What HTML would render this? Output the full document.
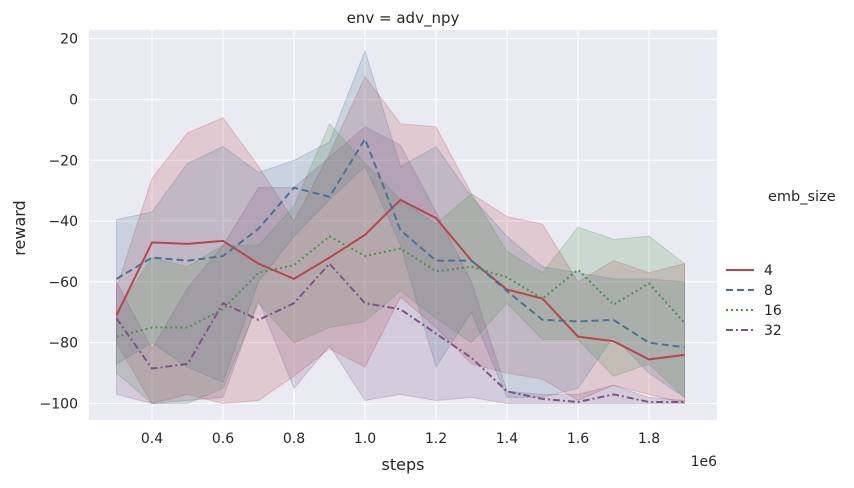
<!DOCTYPE html>
<html><head><meta charset="utf-8"><style>
body{margin:0;background:#fff;font-family:"Liberation Sans","DejaVu Sans",sans-serif}
svg text{font-family:"DejaVu Sans","Liberation Sans",sans-serif;fill:#262626}
</style></head><body>
<svg id="chart" width="854" height="483" xmlns="http://www.w3.org/2000/svg">
<rect x="89" y="30" width="628" height="390" fill="#eaeaf2"/>
<g id="grid"></g><g id="bands"></g><g id="lines"></g><g id="axes"></g>
<text x="403" y="23" font-size="15" text-anchor="middle">env = adv_npy</text>
<text x="403" y="470" font-size="16" text-anchor="middle">steps</text>
<text x="25" y="228" font-size="16" text-anchor="middle" transform="rotate(-90 25 228)">reward</text>
<text x="717" y="466" font-size="14" text-anchor="end">1e6</text>
<g id="legend"></g>
</svg>
<script>
const steps=[0.3,0.4,0.5,0.6,0.7,0.8,0.9,1.0,1.1,1.2,1.3,1.4,1.5,1.6,1.7,1.8,1.9];
const seriesNames=["4","8","16","32"];
const mean4=[-71,-47,-47.5,-46.5,-54,-59,-52,-44.5,-33,-39,-53,-62.5,-65.5,-78,-79.5,-85.5,-84];
const hi4=[-62,-26,-11,-6,-22,-40,-18,7.5,-8,-9,-31,-38.5,-41,-60,-53,-57,-54];
const lo4=[-80,-100,-97,-100,-99,-91,-82,-88,-65,-75,-87,-90,-92,-99,-94,-97,-100];
const mean8=[-59,-52,-53,-51.5,-42.5,-29,-32,-13,-43,-53,-53,-63,-72.5,-73,-72.5,-80,-81.5];
const hi8=[-39.5,-37,-21,-15.5,-24,-20,-14,16,-22,-15.5,-32,-45,-55,-57,-59,-59,-60];
const lo8=[-87,-80,-88,-93,-60,-45,-33,-22,-48,-88,-70,-98,-98,-95,-78,-90,-98];
const mean16=[-78,-75,-75,-69,-57,-54.5,-45,-51.5,-49,-56.5,-55,-58.5,-65.5,-56,-67.5,-60.5,-73.5];
const hi16=[-70,-52,-55,-48,-48,-35,-8,-21,-33,-41,-31,-50,-57,-42,-46,-45,-54];
const lo16=[-90,-100,-100,-95,-67,-80,-75,-73,-63,-72,-80,-67,-79,-79,-91,-87,-98];
const mean32=[-72,-88.5,-87,-67,-72.5,-67,-54,-67,-69,-77,-85,-96,-98.5,-99.5,-97,-99.5,-99.5];
const hi32=[-60,-82,-62,-48,-29,-29,-19,-9,-15,-37,-60,-96,-97,-97,-94,-98,-99];
const lo32=[-97,-100,-99,-98,-66,-95,-81,-99,-97,-99,-98,-100,-100,-100,-100,-100,-100];
const xTicks=[0.4,0.6,0.8,1.0,1.2,1.4,1.6,1.8];
const xTickLabels=["0.4","0.6","0.8","1.0","1.2","1.4","1.6","1.8"];
const yTicks=[20,0,-20,-40,-60,-80,-100];
const yTickLabels=["20","0","\u221220","\u221240","\u221260","\u221280","\u2212100"];

const NS="http://www.w3.org/2000/svg";
const X=v=>116.5+(v-0.3)*355;
const Y=v=>99.5-v*3.04;
function mk(tag,parent,attrs){const e=document.createElementNS(NS,tag);for(const k in attrs)e.setAttribute(k,attrs[k]);document.getElementById(parent).appendChild(e);return e;}
xTicks.forEach((t,i)=>{
  const g=mk('line','grid',{x1:X(t),x2:X(t),y1:30,y2:420,stroke:'#fff','stroke-width':1.2});
  
  
  const l=mk('text','axes',{x:X(t),y:443,'font-size':14,'text-anchor':'middle'});
  l.textContent=xTickLabels[i];
  
  
});
yTicks.forEach((t,i)=>{
  const g=mk('line','grid',{x1:89,x2:717,y1:Y(t),y2:Y(t),stroke:'#fff','stroke-width':1.2});
  
  
  const l=mk('text','axes',{x:78,y:Y(t)+5,'font-size':14,'text-anchor':'end'});
  l.textContent=yTickLabels[i];
  
  
});
const colors=['#b8454a','#4b7196','#4e8f4e','#7e5486'];
const dashes=['','7,4','2,3','7,3,2,3'];
const means=[mean4,mean8,mean16,mean32],his=[hi4,hi8,hi16,hi32],los=[lo4,lo8,lo16,lo32];
means.forEach((m,s)=>{
  let d='M'+steps.map((x,i)=>X(x)+','+Y(his[s][i])).join('L');
  d+='L'+steps.slice().reverse().map((x,j)=>{const i=steps.length-1-j;return X(x)+','+Y(los[s][i]);}).join('L')+'Z';
  const b=mk('path','bands',{d:d,fill:colors[s],'fill-opacity':0.2,stroke:colors[s],'stroke-opacity':0.25});
  
  
  const p=mk('polyline','lines',{points:steps.map((x,i)=>X(x)+','+Y(m[i])).join(' '),fill:'none',stroke:colors[s],'stroke-width':2,'stroke-dasharray':dashes[s]});
  
  
  const ly=270+s*20;
  const ll=mk('line','legend',{x1:726,x2:754,y1:ly,y2:ly,stroke:colors[s],'stroke-width':2,'stroke-dasharray':dashes[s]});
  
  
  const lt=mk('text','legend',{x:764,y:ly+5,'font-size':14});
  lt.textContent=seriesNames[s];
  
  
});
const lg=mk('text','legend',{x:768,y:201,'font-size':14.5});
lg.textContent='emb_size';


</script>
</body></html>
